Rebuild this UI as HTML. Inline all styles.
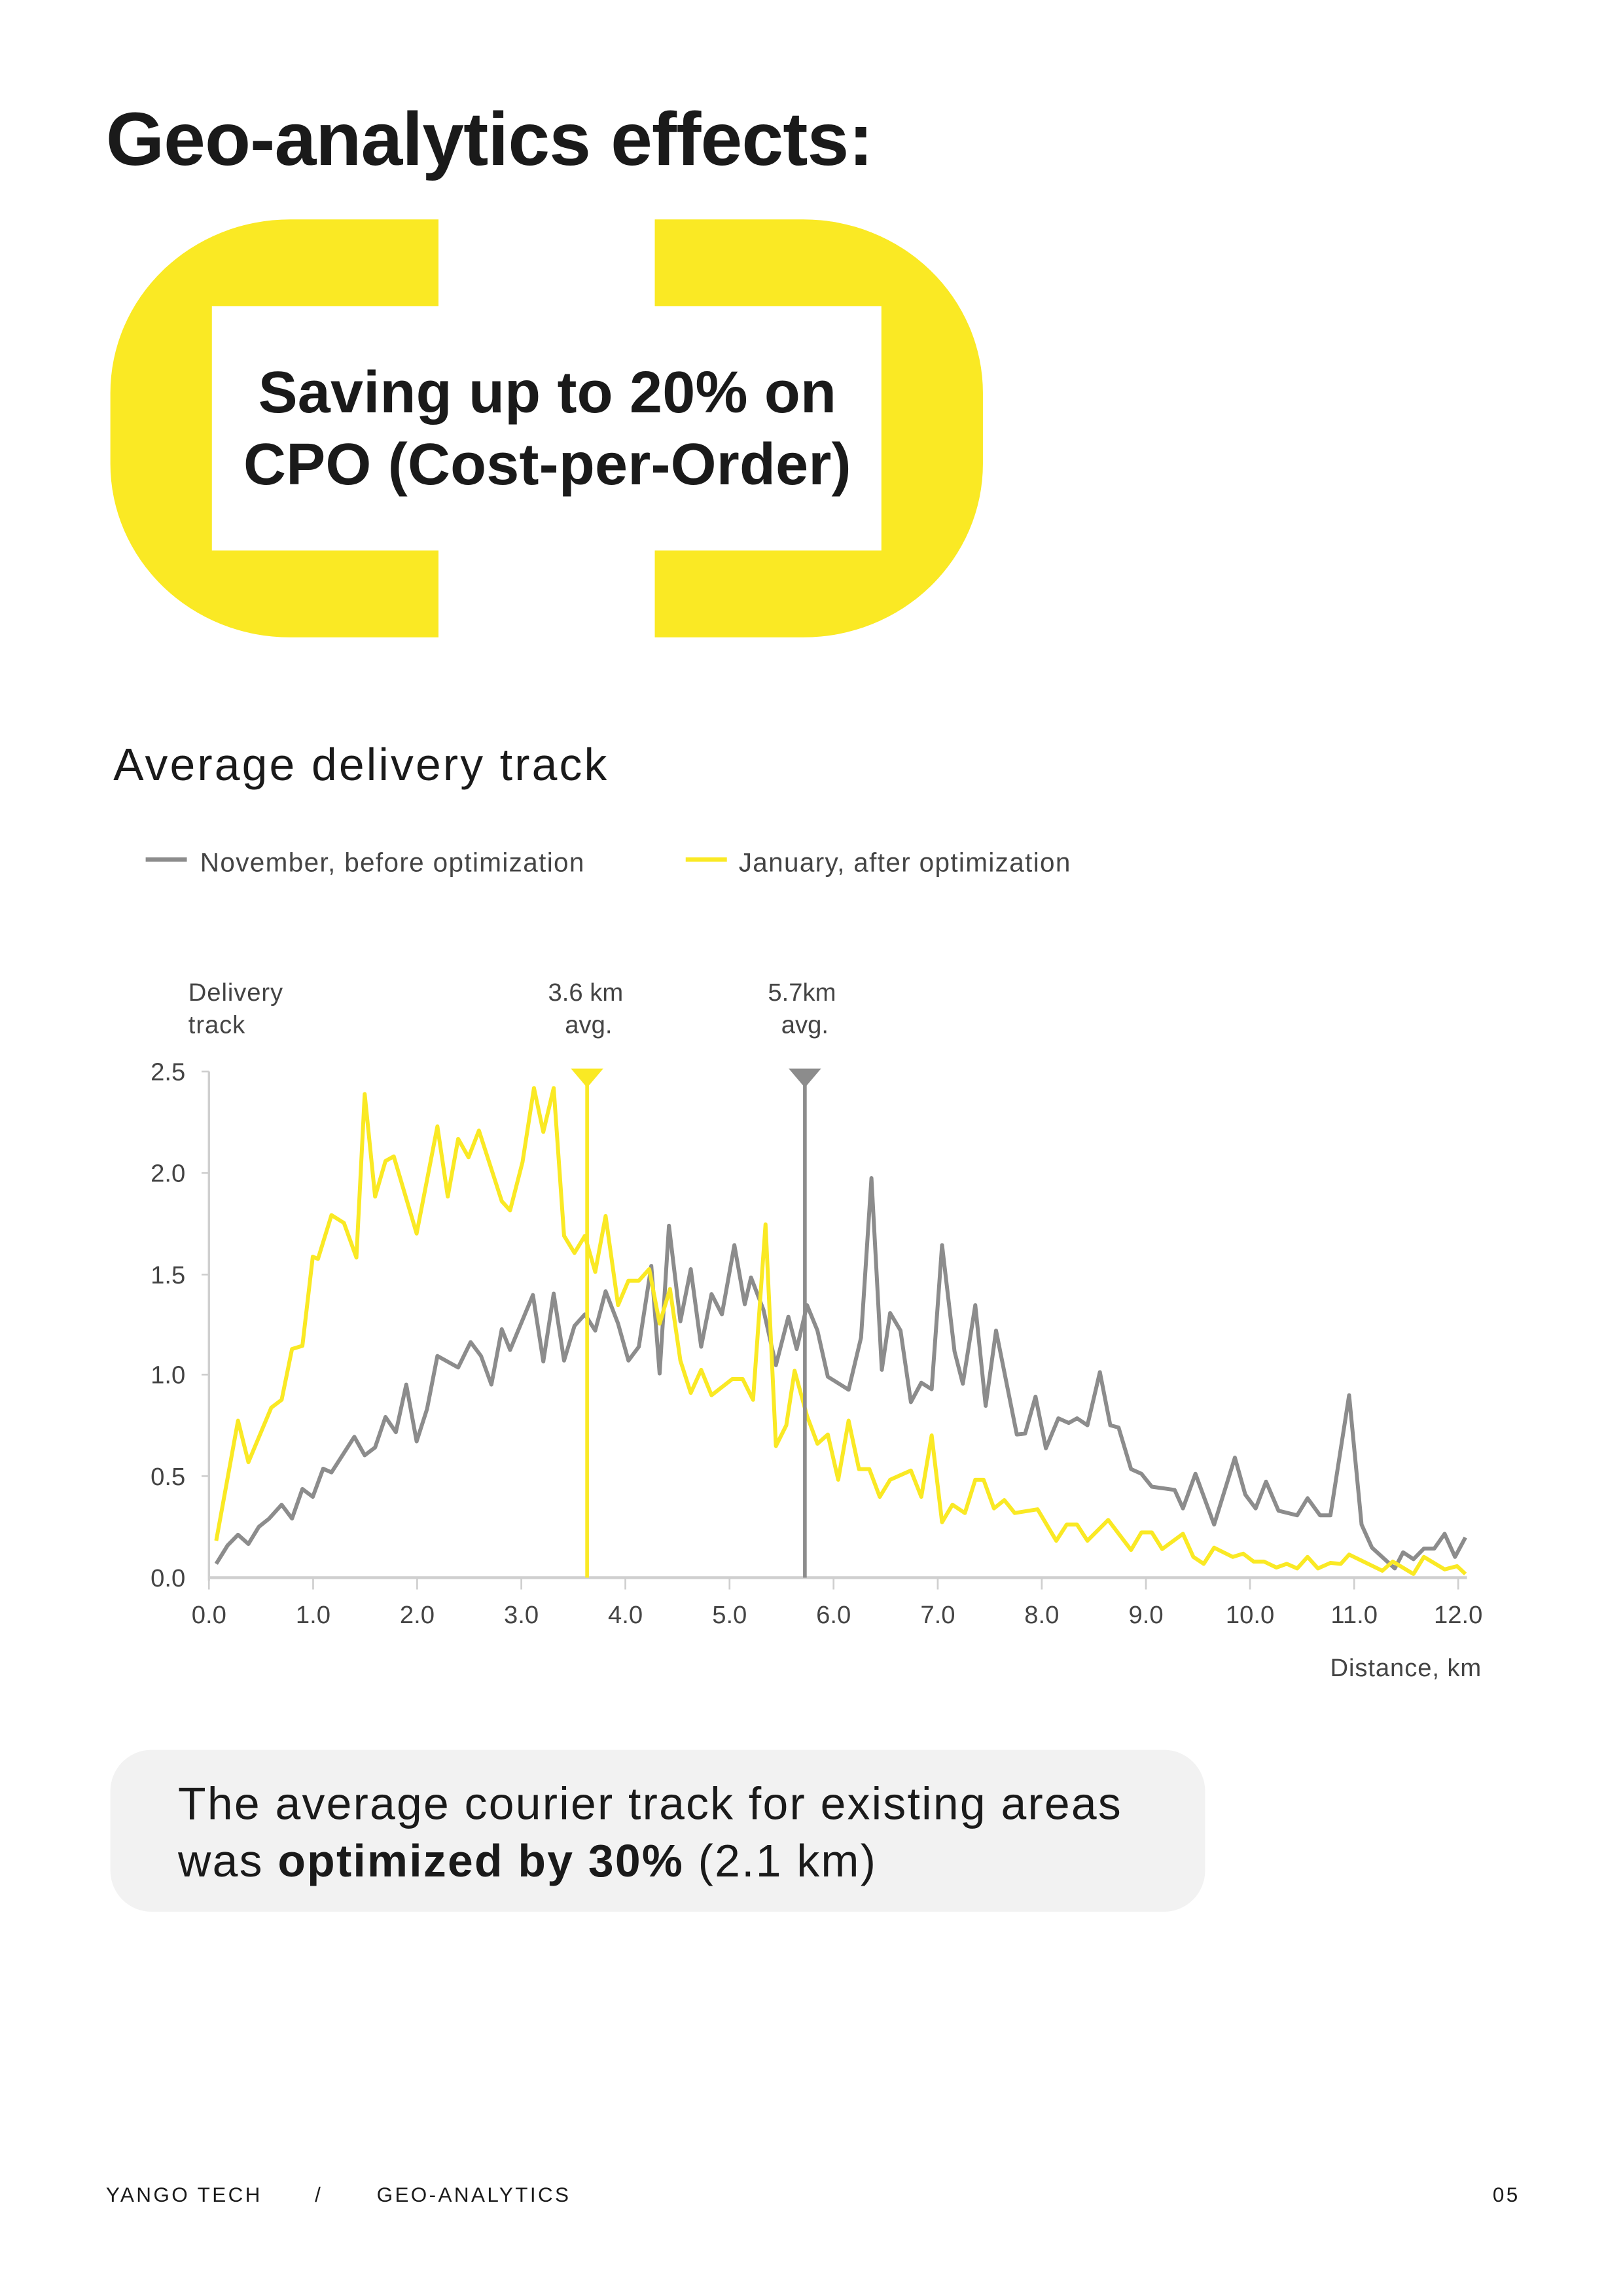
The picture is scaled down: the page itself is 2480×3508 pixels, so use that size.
<!DOCTYPE html>
<html><head><meta charset="utf-8"><style>
html,body{margin:0;padding:0;background:#fff;}
svg{display:block;}
text{font-family:"Liberation Sans",sans-serif;}
</style></head><body>
<svg width="2480" height="3508" viewBox="0 0 1103 1560" xmlns="http://www.w3.org/2000/svg">
<rect width="1103" height="1560" fill="#fff"/>
<text x="72" y="112" font-size="51" font-weight="bold" fill="#1a1a1a" letter-spacing="-0.4">Geo-analytics effects:</text>
<!-- yellow frame -->
<rect x="75" y="149" width="593" height="284" rx="122" ry="118" fill="#fae924"/>
<rect x="144" y="208" width="455" height="166" fill="#fff"/>
<rect x="298" y="140" width="147" height="70" fill="#fff"/>
<rect x="298" y="372" width="147" height="70" fill="#fff"/>
<text x="372" y="280" font-size="40" font-weight="bold" fill="#1a1a1a" text-anchor="middle" letter-spacing="0.1">Saving up to 20% on</text>
<text x="372" y="329" font-size="40" font-weight="bold" fill="#1a1a1a" text-anchor="middle" letter-spacing="0.1">CPO (Cost-per-Order)</text>
<text x="77" y="530" font-size="31" fill="#1a1a1a" letter-spacing="1.4">Average delivery track</text>
<line x1="99" y1="584" x2="127" y2="584" stroke="#8c8c8c" stroke-width="3"/>
<text x="136" y="592" font-size="18" fill="#444" letter-spacing="0.6">November, before optimization</text>
<line x1="466" y1="584" x2="494" y2="584" stroke="#fae924" stroke-width="3"/>
<text x="502" y="592" font-size="18" fill="#444" letter-spacing="0.6">January, after optimization</text>
<!-- chart labels -->
<text x="128" y="680" font-size="17" fill="#444" letter-spacing="0.4">Delivery</text>
<text x="128" y="702" font-size="17" fill="#444" letter-spacing="0.4">track</text>
<text x="398" y="680" font-size="17" fill="#444" text-anchor="middle">3.6 km</text>
<text x="400" y="702" font-size="17" fill="#444" text-anchor="middle">avg.</text>
<text x="545" y="680" font-size="17" fill="#444" text-anchor="middle">5.7km</text>
<text x="547" y="702" font-size="17" fill="#444" text-anchor="middle">avg.</text>
<!-- axes -->
<line x1="142" y1="728" x2="142" y2="1074" stroke="#cfcfcf" stroke-width="1.5"/>
<line x1="142" y1="1072" x2="997" y2="1072" stroke="#cfcfcf" stroke-width="2"/>
<g stroke="#cfcfcf" stroke-width="1.2">
<line x1="137" y1="728" x2="142" y2="728"/><line x1="137" y1="797" x2="142" y2="797"/><line x1="137" y1="866" x2="142" y2="866"/><line x1="137" y1="934" x2="142" y2="934"/><line x1="137" y1="1003" x2="142" y2="1003"/>
</g>
<g stroke="#cfcfcf" stroke-width="1.2">
<line x1="142.0" y1="1072" x2="142.0" y2="1080"/><line x1="212.8" y1="1072" x2="212.8" y2="1080"/><line x1="283.5" y1="1072" x2="283.5" y2="1080"/><line x1="354.3" y1="1072" x2="354.3" y2="1080"/><line x1="425.0" y1="1072" x2="425.0" y2="1080"/><line x1="495.8" y1="1072" x2="495.8" y2="1080"/><line x1="566.5" y1="1072" x2="566.5" y2="1080"/><line x1="637.3" y1="1072" x2="637.3" y2="1080"/><line x1="708.0" y1="1072" x2="708.0" y2="1080"/><line x1="778.8" y1="1072" x2="778.8" y2="1080"/><line x1="849.5" y1="1072" x2="849.5" y2="1080"/><line x1="920.3" y1="1072" x2="920.3" y2="1080"/><line x1="991.0" y1="1072" x2="991.0" y2="1080"/>
</g>
<g font-size="17" fill="#444" text-anchor="end">
<text x="126" y="734">2.5</text><text x="126" y="803">2.0</text><text x="126" y="872">1.5</text><text x="126" y="940">1.0</text><text x="126" y="1009">0.5</text><text x="126" y="1078">0.0</text>
</g>
<g font-size="17" fill="#444" text-anchor="middle">
<text x="142" y="1103">0.0</text><text x="212.8" y="1103">1.0</text><text x="283.5" y="1103">2.0</text><text x="354.3" y="1103">3.0</text><text x="425" y="1103">4.0</text><text x="495.8" y="1103">5.0</text><text x="566.5" y="1103">6.0</text><text x="637.3" y="1103">7.0</text><text x="708" y="1103">8.0</text><text x="778.8" y="1103">9.0</text><text x="849.5" y="1103">10.0</text><text x="920.3" y="1103">11.0</text><text x="991" y="1103">12.0</text>
</g>
<text x="1007" y="1139" font-size="17" fill="#444" text-anchor="end" letter-spacing="0.4">Distance, km</text>
<!-- series -->
<g transform="matrix(0.7057 0 0 0.3139 0.86 670.2)" fill="none" stroke-linejoin="round">
<polyline vector-effect="non-scaling-stroke" stroke="#8c8c8c" stroke-width="6" points="207,1250 218,1210 228,1187 238,1207 248,1170 258,1152 270,1122 280,1152 290,1088 300,1105 310,1044 318,1052 340,975 350,1015 360,998 370,932 380,965 390,862 400,985 410,915 420,800 440,825 452,770 462,800 472,862 482,742 490,787 512,668 522,812 532,665 542,810 552,735 562,710 572,745 582,660 594,730 604,810 614,780 626,605 634,838 643,518 654,725 664,612 674,780 684,666 694,710 706,560 716,688 722,630 734,700 746,820 758,715 766,785 776,690 786,745 796,845 816,873 828,760 838,415 848,830 856,707 866,745 876,900 886,858 896,872 906,560 918,790 926,860 938,690 948,908 958,745 978,970 986,968 996,888 1006,1000 1018,935 1028,945 1036,935 1046,950 1058,835 1068,950 1076,955 1088,1045 1098,1055 1108,1083 1130,1090 1138,1130 1150,1055 1168,1165 1188,1020 1198,1100 1208,1130 1218,1072 1230,1135 1248,1145 1258,1108 1270,1145 1280,1145 1298,885 1310,1165 1320,1215 1342,1260 1350,1225 1360,1240 1370,1217 1380,1217 1390,1185 1400,1235 1410,1193"/>
<polyline vector-effect="non-scaling-stroke" stroke="#fae924" stroke-width="6" points="207,1200 228,940 238,1030 260,912 270,895 280,785 290,778 300,585 305,590 318,495 330,512 342,587 350,233 360,455 370,378 378,368 400,535 420,303 430,455 440,330 450,370 460,312 482,465 490,485 502,380 513,220 522,315 532,220 542,540 552,577 562,540 572,618 582,497 594,690 604,637 614,637 624,612 634,730 644,655 654,810 664,880 674,830 684,885 704,850 714,850 724,895 736,515 746,995 756,950 764,832 776,930 786,990 796,970 806,1068 816,940 826,1045 836,1045 846,1105 856,1068 876,1048 886,1105 896,972 906,1160 916,1122 928,1140 938,1068 946,1068 956,1130 966,1112 976,1140 998,1132 1016,1200 1026,1165 1036,1165 1046,1200 1066,1155 1088,1220 1098,1182 1108,1182 1118,1218 1138,1185 1148,1235 1158,1250 1168,1215 1186,1235 1196,1228 1206,1245 1216,1245 1228,1258 1238,1250 1248,1260 1258,1235 1268,1260 1280,1248 1290,1250 1298,1230 1330,1265 1340,1245 1360,1272 1370,1235 1390,1262 1402,1255 1410,1272"/>
</g>
<!-- avg markers -->
<line x1="399" y1="732" x2="399" y2="1072" stroke="#fae924" stroke-width="2.5"/>
<polygon points="388,726 410,726 399,739" fill="#fae924"/>
<line x1="547" y1="732" x2="547" y2="1072" stroke="#8c8c8c" stroke-width="2.5"/>
<polygon points="536,726 558,726 547,739" fill="#8c8c8c"/>
<!-- bottom box -->
<rect x="75" y="1189" width="744" height="110" rx="28" fill="#f2f2f2"/>
<text x="121" y="1236" font-size="31" fill="#1a1a1a" letter-spacing="1">The average courier track for existing areas</text>
<text x="121" y="1275" font-size="31" fill="#1a1a1a" letter-spacing="1">was <tspan font-weight="bold">optimized by 30%</tspan> (2.1 km)</text>
<!-- footer -->
<g font-size="14" fill="#1a1a1a" letter-spacing="1.5">
<text x="72" y="1496">YANGO TECH</text>
<text x="214" y="1496">/</text>
<text x="256" y="1496">GEO-ANALYTICS</text>
<text x="1033" y="1496" text-anchor="end">05</text>
</g>
</svg>
</body></html>
